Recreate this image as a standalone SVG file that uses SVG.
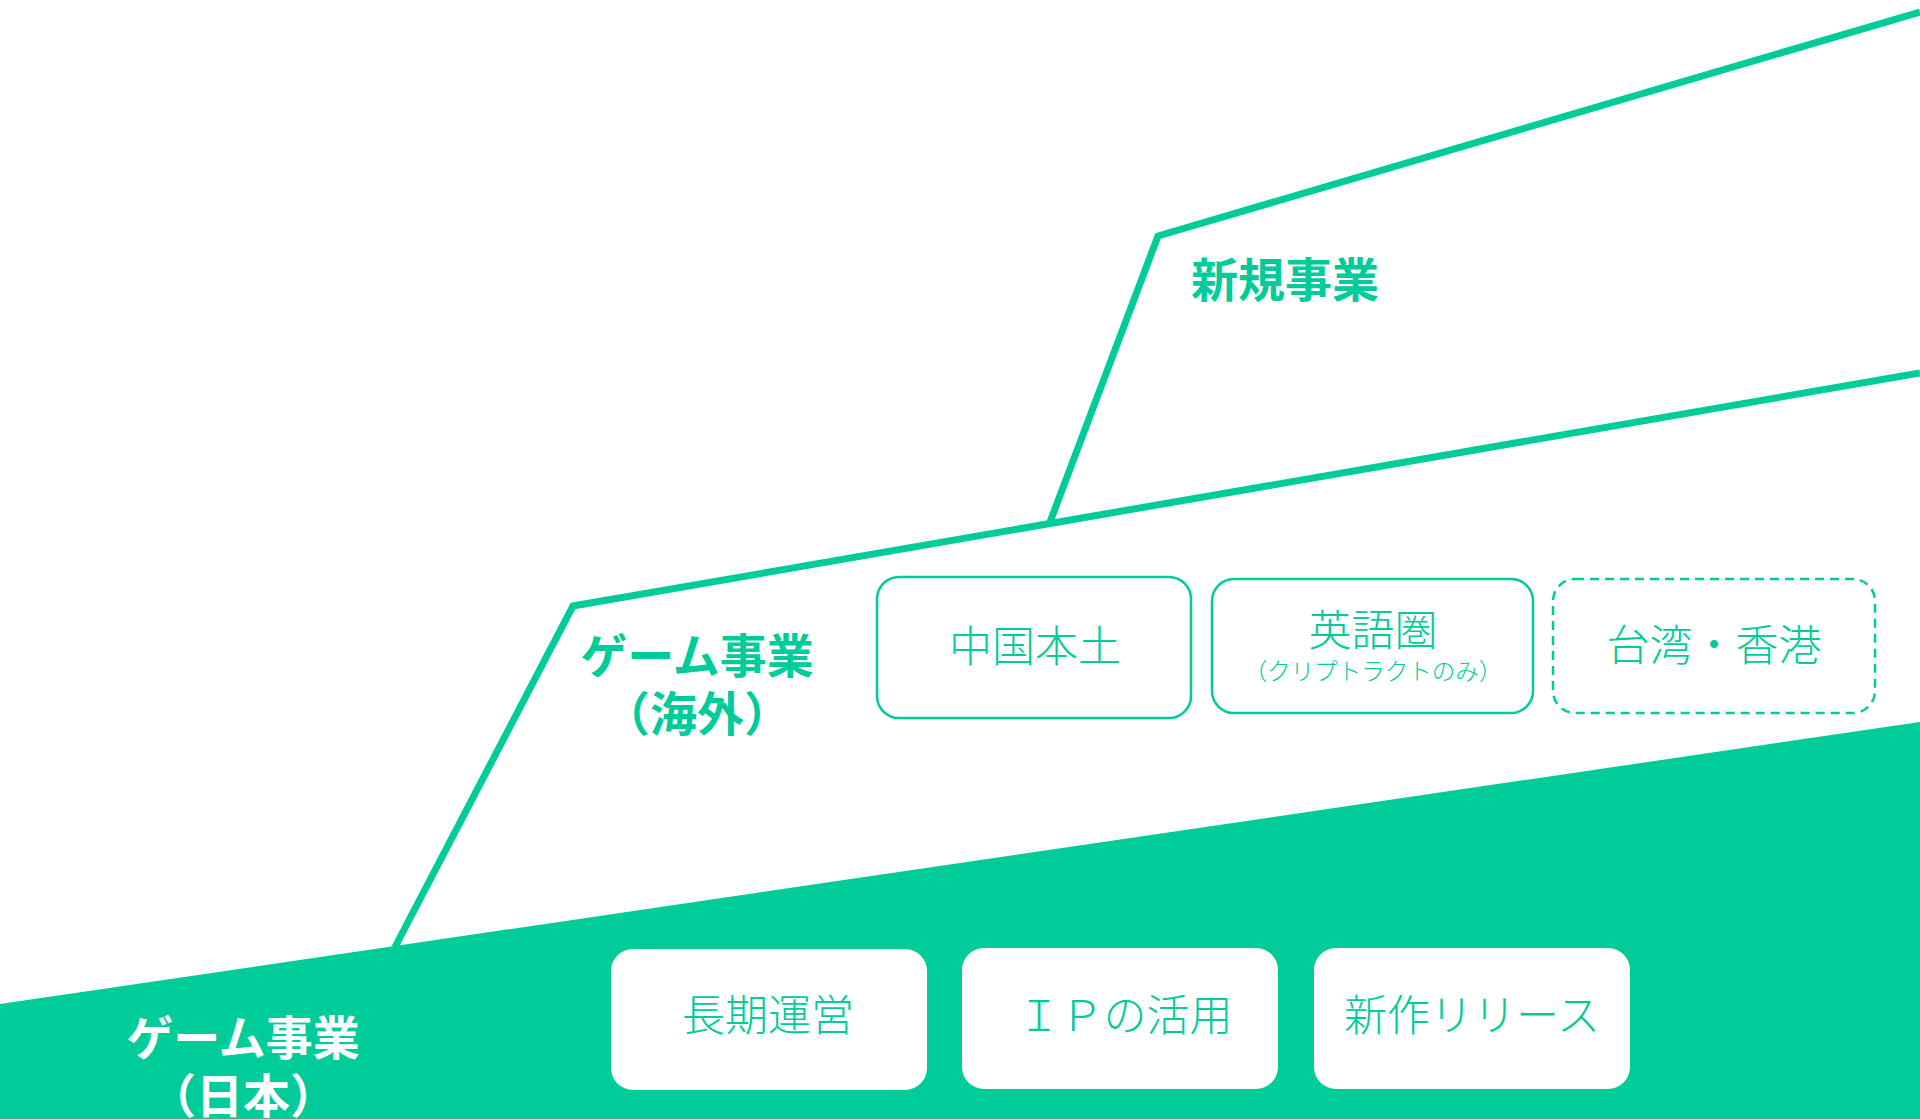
<svg xmlns="http://www.w3.org/2000/svg" width="1920" height="1119" viewBox="0 0 1920 1119">
<style>
.ln{fill:none;stroke:#00CC99;stroke-width:7;stroke-linejoin:miter}
.bold{font-family:"Noto Sans CJK JP","Noto Sans CJK SC",sans-serif;font-weight:700;font-size:47px;text-anchor:middle}
.g{fill:#00CC99}
.w{fill:#FFFFFF}
.thin{font-family:"Noto Sans CJK JP","Noto Sans CJK SC",sans-serif;font-weight:300;font-size:43px;text-anchor:middle;fill:#00CC99}
.sub{font-size:23.5px}
.ob{fill:#FFFFFF;stroke:#00CC99;stroke-width:2.5}
.dash{stroke-dasharray:9 6}
.wb{fill:#FFFFFF}
</style>
<rect width="1920" height="1119" fill="#FFFFFF"/>
<polygon points="0,1004 1920,722 1920,1119 0,1119" fill="#00CC99"/>
<g id="connectors">
<polyline class="ln" points="1920,12 1158,236 1050,522"/>
<polyline class="ln" points="1920,373 573,606 395,947"/>
</g>
<g id="label-new">
<text class="bold g" x="1285" y="297">新規事業</text>
</g>
<g id="label-overseas">
<text class="bold g" x="697" y="673">ゲーム事業</text>
<text class="bold g" x="697" y="731">（海外）</text>
</g>
<g id="label-japan">
<text class="bold w" x="243" y="1055">ゲーム事業</text>
<text class="bold w" x="243" y="1113">（日本）</text>
</g>
<g id="box-china">
<rect class="ob" x="877" y="577" width="314" height="141" rx="22"/>
<text class="thin" x="1035" y="662">中国本土</text>
</g>
<g id="box-english">
<rect class="ob" x="1212" y="579" width="321" height="134" rx="22"/>
<text class="thin" x="1373" y="646">英語圏</text>
<text class="thin sub" x="1373" y="680">（クリプトラクトのみ）</text>
</g>
<g id="box-taiwan">
<rect class="ob dash" x="1553" y="579" width="322" height="134" rx="22"/>
<text class="thin" x="1714" y="661">台湾・香港</text>
</g>
<g id="box-longterm">
<rect class="wb" x="611" y="949" width="316" height="141" rx="22"/>
<text class="thin" x="768" y="1031">長期運営</text>
</g>
<g id="box-ip">
<rect class="wb" x="962" y="948" width="316" height="141" rx="22"/>
<text class="thin" x="1125" y="1031">ＩＰの活用</text>
</g>
<g id="box-new">
<rect class="wb" x="1314" y="948" width="316" height="141" rx="22"/>
<text class="thin" x="1472" y="1031">新作リリース</text>
</g>
</svg>
